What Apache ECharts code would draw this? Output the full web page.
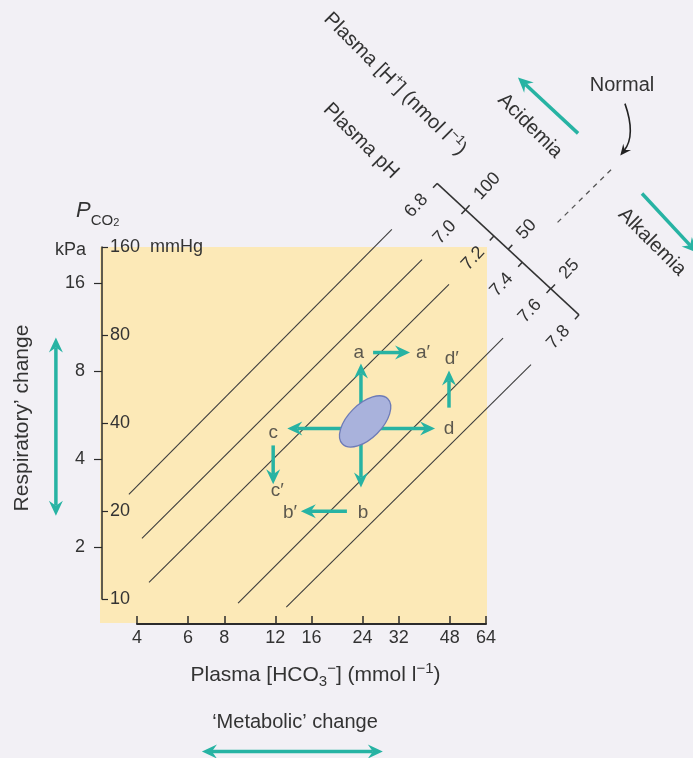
<!DOCTYPE html>
<html><head><meta charset="utf-8">
<script src="https://cdn.jsdelivr.net/npm/echarts@6/dist/echarts.min.js"></script>
<style>html,body{margin:0;padding:0;background:#f2f0f5;}#c{width:693px;height:758px;}</style>
</head><body><div id="c"></div>
<script>
// ---------------- data (HCO3 in mmol/l, PCO2 in kPa) ----------------
const hco3Ticks = [4, 6, 8, 12, 16, 24, 32, 48, 64];
const kpaTicks = [2, 4, 8, 16];
const mmhgTicks = [10, 20, 40, 80, 160];
const kpaPerMmHg = 1 / 7.5;

// pH isopleths (start / end)
const isoLabels = ['6.8', '7.0', '7.2', '7.6', '7.8'];
const isoStartHCO3 = [3.75, 4.16, 4.4, 8.93, 13.1];
const isoStartKPa = [3.04, 2.15, 1.52, 1.29, 1.25];
const isoEndHCO3 = [30.3, 38.5, 47.7, 73.3, 91.5];
const isoEndKPa = [24.5, 19.3, 15.9, 10.4, 8.45];

// pH / [H+] scale
const scalePH = [6.8, 7.0, 7.2, 7.4, 7.6, 7.8];
const scaleH = [100, 50, 25];
const scaleEndHCO3 = [43.4, 134];
const scaleEndKPa = [35.2, 12.5];

// normal region and its dashed extension
const normalHCO3 = 24.5, normalKPa = 5.4;
const normalExtHCO3 = [113, 176];
const normalExtKPa = [25.9, 39.9];
const normalCurveHCO3 = [193, 211, 186];
const normalCurveKPa = [66, 51.3, 43.9];

// teal arrows: from -> to ; heads 1 = one head, 2 = double
const arrowNames = ['up', 'down', 'left', 'right', 'a-a', 'd-d', 'c-c', 'b-b', 'acid', 'alk', 'resp', 'metab'];
const arrowFromHCO3 = [23.7, 23.7, 23.7, 23.7, 26.1, 47.7, 11.8, 21.2, 133, 221, 2.10, 6.70];
const arrowFromKPa = [5.11, 5.11, 5.11, 5.11, 9.29, 6.02, 4.47, 2.66, 52.2, 32.5, 2.57, 0.401];
const arrowToHCO3 = [23.7, 23.7, 13.2, 42.7, 35.0, 47.7, 11.8, 14.7, 82.5, 342, 2.10, 28.2];
const arrowToKPa = [8.52, 3.21, 5.11, 5.11, 9.29, 8.06, 3.29, 2.66, 81.1, 20.4, 10.46, 0.401];
const arrowHeads = [1, 1, 1, 1, 1, 1, 1, 1, 1, 1, 2, 2];

// point letters
const ptLabels = ['a', 'a′', 'b', 'b′', 'c', 'c′', 'd', 'd′'];
const ptHCO3 = [23.3, 38.8, 24.1, 13.5, 11.8, 12.2, 47.7, 48.8];
const ptKPa = [9.29, 9.29, 2.64, 2.64, 4.95, 3.13, 5.11, 8.86];

// ---------------- rendering ----------------
const L2 = Math.log2;
const FONT = "'Liberation Sans', Arial, Helvetica, sans-serif";
const TEAL = '#27b3a3';
const INK = '#333333';

function head(tip, ux, uy, L, W, N) {
  const px = -uy, py = ux;
  return [[tip[0], tip[1]],
    [tip[0] - ux * L + px * W, tip[1] - uy * L + py * W],
    [tip[0] - ux * N, tip[1] - uy * N],
    [tip[0] - ux * L - px * W, tip[1] - uy * L - py * W]];
}
function segmentRenderer(style) {
  return function (params, api) {
    const a = api.coord([api.value(0), api.value(1)]);
    const b = api.coord([api.value(2), api.value(3)]);
    return { type: 'line', shape: { x1: a[0], y1: a[1], x2: b[0], y2: b[1] }, style: style };
  };
}
function renderArrow(params, api) {
  const a = api.coord([api.value(0), api.value(1)]);
  const b = api.coord([api.value(2), api.value(3)]);
  const both = api.value(4) === 2;
  const dx = b[0] - a[0], dy = b[1] - a[1], len = Math.hypot(dx, dy);
  const ux = dx / len, uy = dy / len;
  const L = 15, W = 7, N = 10;
  const s = both ? [a[0] + ux * N, a[1] + uy * N] : a;
  const e = [b[0] - ux * N, b[1] - uy * N];
  const ch = [
    { type: 'line', shape: { x1: s[0], y1: s[1], x2: e[0], y2: e[1] }, style: { stroke: TEAL, lineWidth: 3.5 } },
    { type: 'polygon', shape: { points: head(b, ux, uy, L, W, N) }, style: { fill: TEAL } }
  ];
  if (both) ch.push({ type: 'polygon', shape: { points: head(a, -ux, -uy, L, W, N) }, style: { fill: TEAL } });
  return { type: 'group', children: ch };
}
function renderEllipse(params, api) {
  const c = api.coord([api.value(0), api.value(1)]);
  return { type: 'ellipse', x: c[0], y: c[1], rotation: 45 * Math.PI / 180,
    shape: { cx: 0, cy: 0, rx: 32, ry: 17 },
    style: { fill: '#a9b2dc', stroke: '#6d7bb7', lineWidth: 1.3 } };
}
function renderCurve(params, api) {
  const p0 = api.coord([api.value(0), api.value(1)]);
  const c = api.coord([api.value(2), api.value(3)]);
  const p1 = api.coord([api.value(4), api.value(5)]);
  const dx = p1[0] - c[0], dy = p1[1] - c[1], l = Math.hypot(dx, dy);
  const ux = dx / l, uy = dy / l;
  return { type: 'group', children: [
    { type: 'bezierCurve', shape: { x1: p0[0], y1: p0[1], cpx1: c[0], cpy1: c[1], x2: p1[0] - ux * 6, y2: p1[1] - uy * 6 },
      style: { stroke: '#222', lineWidth: 1.6, fill: null } },
    { type: 'polygon', shape: { points: head(p1, ux, uy, 11, 5, 7) }, style: { fill: '#222' } }
  ] };
}
function renderScale(params, api) {
  const A = api.coord([api.value(0), api.value(1)]);
  const B = api.coord([api.value(2), api.value(3)]);
  const ph0 = scalePH[0], ph1 = scalePH[scalePH.length - 1];
  const at = ph => { const t = (ph - ph0) / (ph1 - ph0); return [A[0] + (B[0] - A[0]) * t, A[1] + (B[1] - A[1]) * t]; };
  const len = Math.hypot(B[0] - A[0], B[1] - A[1]);
  const ux = (B[0] - A[0]) / len, uy = (B[1] - A[1]) / len;
  const dl = [-uy, ux], ur = [uy, -ux];
  const rot = Math.atan2(-ur[1], ur[0]);
  const st = { stroke: INK, lineWidth: 1.5 };
  const ts = { fontSize: 18, fill: INK, fontFamily: FONT, verticalAlign: 'middle' };
  const ch = [{ type: 'line', shape: { x1: A[0], y1: A[1], x2: B[0], y2: B[1] }, style: st }];
  scalePH.forEach(ph => {
    const p = at(ph);
    ch.push({ type: 'line', shape: { x1: p[0], y1: p[1], x2: p[0] + dl[0] * 6, y2: p[1] + dl[1] * 6 }, style: st });
    ch.push({ type: 'text', x: p[0] + dl[0] * 18, y: p[1] + dl[1] * 18, rotation: rot,
      style: Object.assign({ text: ph.toFixed(1), align: 'right' }, ts) });
  });
  scaleH.forEach(h => {
    const p = at(9 - Math.log10(h));
    ch.push({ type: 'line', shape: { x1: p[0], y1: p[1], x2: p[0] + ur[0] * 6, y2: p[1] + ur[1] * 6 }, style: st });
    ch.push({ type: 'text', x: p[0] + ur[0] * 17, y: p[1] + ur[1] * 17, rotation: rot,
      style: Object.assign({ text: String(h), align: 'left' }, ts) });
  });
  return { type: 'group', children: ch };
}

const kMin = L2(mmhgTicks[0] * kpaPerMmHg), kMax = L2(mmhgTicks[mmhgTicks.length - 1] * kpaPerMmHg);
const txt = (extra) => Object.assign({ fontSize: 20, fontFamily: FONT, fill: INK, align: 'center', verticalAlign: 'middle' }, extra);

const option = {
  animation: false,
  backgroundColor: '#f2f0f5',
  textStyle: { fontFamily: FONT },
  grid: [
    { left: 137, top: 247, width: 349, height: 352, show: false },
    { left: 100, top: 247, width: 387, height: 376, show: true, backgroundColor: '#fce9b7', borderWidth: 0 }
  ],
  xAxis: [
    { gridIndex: 0, type: 'value', min: L2(hco3Ticks[0]), max: L2(hco3Ticks[hco3Ticks.length - 1]), offset: 25,
      axisLine: { show: true, lineStyle: { color: '#2b2b2b', width: 2 } },
      axisTick: { show: true, inside: true, length: 8, customValues: hco3Ticks.map(L2), lineStyle: { color: '#2b2b2b', width: 1.5 } },
      axisLabel: { customValues: hco3Ticks.map(L2), formatter: v => String(Math.round(Math.pow(2, v))), fontSize: 18, color: INK, margin: 5, fontFamily: FONT },
      splitLine: { show: false },
      name: 'Plasma [HCO{sub|3}{sup|−}] (mmol l{sup|−1})', nameLocation: 'middle', nameGap: 37,
      nameTextStyle: { fontSize: 21, color: INK, fontFamily: FONT, lineHeight: 28, padding: [0, 0, 0, 8],
        rich: { sub: { fontSize: 15, verticalAlign: 'bottom', lineHeight: 28, color: INK, fontFamily: FONT },
                sup: { fontSize: 15, verticalAlign: 'top', lineHeight: 28, color: INK, fontFamily: FONT } } } },
    { gridIndex: 1, type: 'value', min: 0, max: 1, show: false }
  ],
  yAxis: [
    { gridIndex: 0, type: 'value', position: 'left', offset: 35, min: kMin, max: kMax,
      axisLine: { show: true, lineStyle: { color: '#2b2b2b', width: 1.5 } },
      axisTick: { show: true, inside: false, length: 8, customValues: kpaTicks.map(L2), lineStyle: { color: '#2b2b2b', width: 1.2 } },
      axisLabel: { customValues: kpaTicks.map(L2), formatter: v => String(Math.round(Math.pow(2, v))), fontSize: 18, color: INK, margin: 17, fontFamily: FONT },
      splitLine: { show: false },
      name: 'kPa', nameLocation: 'end', nameGap: -3,
      nameTextStyle: { fontSize: 18, color: INK, align: 'right', verticalAlign: 'middle', padding: [0, 16, 0, 0], fontFamily: FONT } },
    { gridIndex: 0, type: 'value', position: 'left', offset: 35, min: L2(mmhgTicks[0]), max: L2(mmhgTicks[mmhgTicks.length - 1]),
      axisLine: { show: false },
      axisTick: { show: true, inside: true, length: 6, customValues: mmhgTicks.map(L2), lineStyle: { color: '#2b2b2b', width: 1.2 } },
      axisLabel: { inside: true, customValues: mmhgTicks.map(L2), margin: 8, fontSize: 18, color: INK, fontFamily: FONT,
        formatter: v => { const m = Math.round(Math.pow(2, v)); return m === mmhgTicks[mmhgTicks.length - 1] ? m + '  mmHg' : String(m); } },
      splitLine: { show: false } },
    { gridIndex: 1, type: 'value', min: 0, max: 1, show: false }
  ],
  graphic: [
    { type: 'text', x: 76, y: 214, style: { text: '{p|P}{s|CO}{ss|2}', fill: INK,
        rich: { p: { fontSize: 22, fontStyle: 'italic', fontFamily: FONT, fill: INK, verticalAlign: 'top', lineHeight: 28 },
                s: { fontSize: 15, fontFamily: FONT, fill: INK, verticalAlign: 'bottom', lineHeight: 28 },
                ss: { fontSize: 11, fontFamily: FONT, fill: INK, verticalAlign: 'bottom', lineHeight: 23 } },
        verticalAlign: 'middle', align: 'left' } },
    { type: 'text', x: 622, y: 85, style: txt({ text: 'Normal' }) },
    { type: 'text', x: 361, y: 141, rotation: -Math.PI / 4, style: txt({ text: 'Plasma pH' }) },
    { type: 'text', x: 395, y: 84, rotation: -Math.PI / 4, style: txt({ text: 'Plasma [H{sup|+}] (nmol l{sup|−1})', lineHeight: 26,
        rich: { sup: { fontSize: 13, fontFamily: FONT, fill: INK, verticalAlign: 'top', lineHeight: 26 } } }) },
    { type: 'text', x: 530, y: 126, rotation: -Math.PI / 4, style: txt({ text: 'Acidemia' }) },
    { type: 'text', x: 652, y: 242, rotation: -Math.PI / 4, style: txt({ text: 'Alkalemia' }) },
    { type: 'text', x: 295, y: 722, style: txt({ text: '‘Metabolic’ change' }) },
    { type: 'text', x: 22, y: 418, rotation: Math.PI / 2, style: txt({ text: 'Respiratory’ change', fontSize: 21 }) }
  ],
  series: [
    { type: 'custom', name: 'pH isopleths', xAxisIndex: 0, yAxisIndex: 0, clip: false, silent: true, z: 3,
      renderItem: segmentRenderer({ stroke: '#3d3d3d', lineWidth: 1.1 }),
      data: isoLabels.map((n, i) => [L2(isoStartHCO3[i]), L2(isoStartKPa[i]), L2(isoEndHCO3[i]), L2(isoEndKPa[i])]) },
    { type: 'custom', name: 'normal extension', xAxisIndex: 0, yAxisIndex: 0, clip: false, silent: true, z: 3,
      renderItem: segmentRenderer({ stroke: '#555', lineWidth: 1.3, lineDash: [5, 5] }),
      data: [[L2(normalExtHCO3[0]), L2(normalExtKPa[0]), L2(normalExtHCO3[1]), L2(normalExtKPa[1])]] },
    { type: 'custom', name: 'pH scale', xAxisIndex: 0, yAxisIndex: 0, clip: false, silent: true, z: 4,
      renderItem: renderScale,
      data: [[L2(scaleEndHCO3[0]), L2(scaleEndKPa[0]), L2(scaleEndHCO3[1]), L2(scaleEndKPa[1])]] },
    { type: 'custom', name: 'arrows', xAxisIndex: 0, yAxisIndex: 0, clip: false, silent: true, z: 5,
      renderItem: renderArrow,
      data: arrowNames.map((n, i) => [L2(arrowFromHCO3[i]), L2(arrowFromKPa[i]), L2(arrowToHCO3[i]), L2(arrowToKPa[i]), arrowHeads[i]]) },
    { type: 'custom', name: 'normal', xAxisIndex: 0, yAxisIndex: 0, clip: false, silent: true, z: 6,
      renderItem: renderEllipse, data: [[L2(normalHCO3), L2(normalKPa)]] },
    { type: 'custom', name: 'normal pointer', xAxisIndex: 0, yAxisIndex: 0, clip: false, silent: true, z: 6,
      renderItem: renderCurve,
      data: [[L2(normalCurveHCO3[0]), L2(normalCurveKPa[0]), L2(normalCurveHCO3[1]), L2(normalCurveKPa[1]), L2(normalCurveHCO3[2]), L2(normalCurveKPa[2])]] },
    { type: 'scatter', name: 'letters', xAxisIndex: 0, yAxisIndex: 0, clip: false, silent: true, symbolSize: 0, z: 7,
      data: ptLabels.map((t, i) => ({ name: t, value: [L2(ptHCO3[i]), L2(ptKPa[i])] })),
      label: { show: true, position: 'inside', formatter: '{b}', fontSize: 19, color: INK, fontFamily: FONT } }
  ]
};
const chart = echarts.init(document.getElementById('c'), null, { renderer: 'canvas' });
chart.setOption(option);
</script></body></html>
